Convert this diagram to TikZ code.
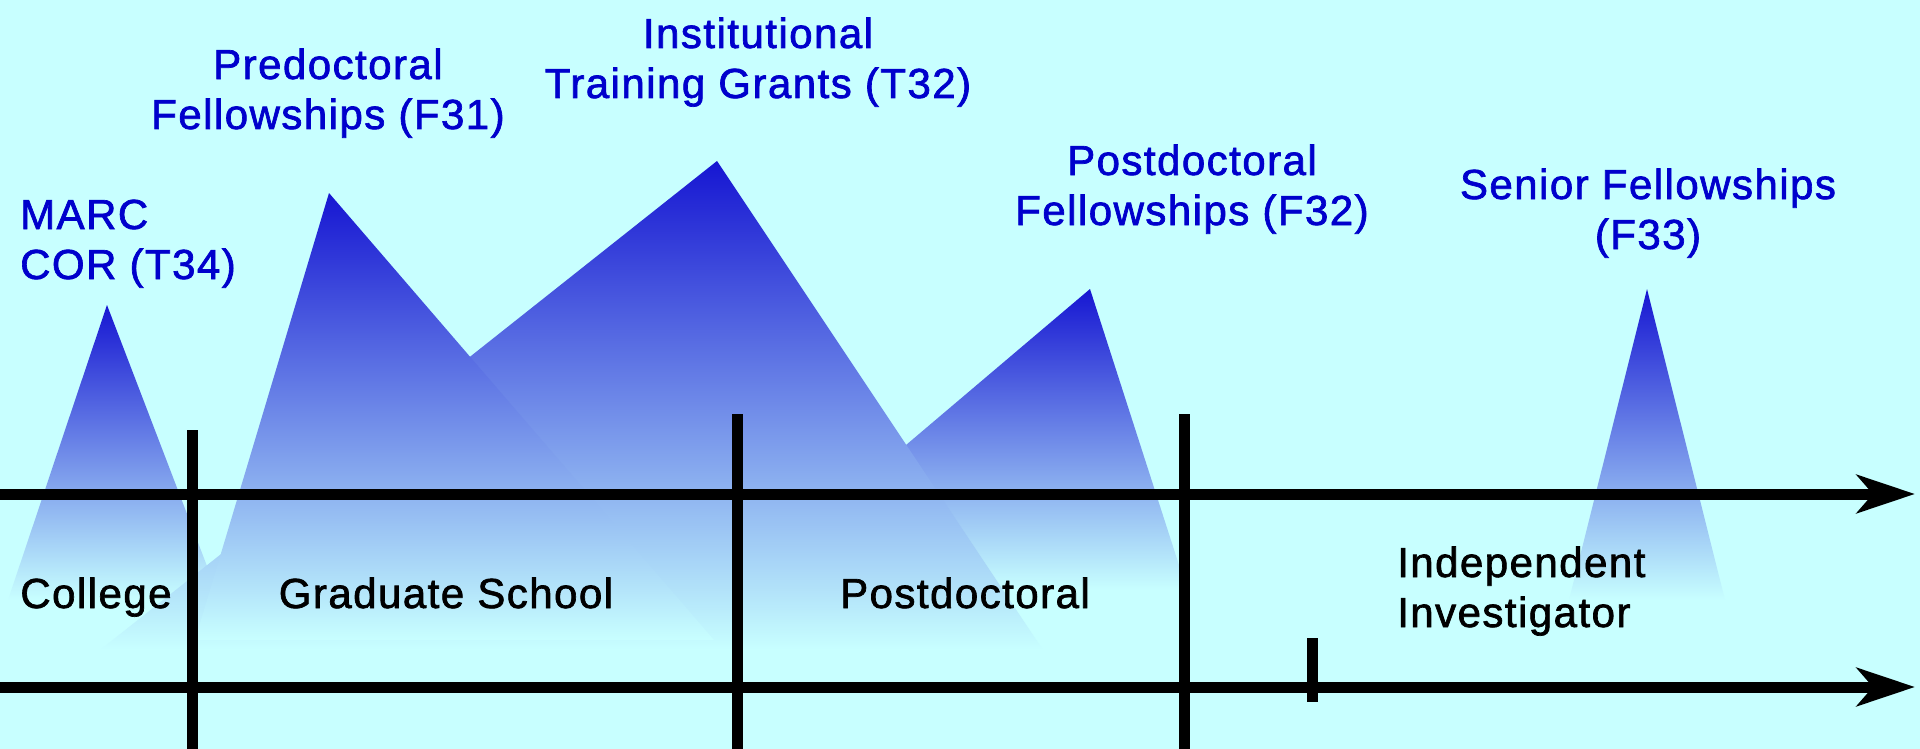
\documentclass[tikz,border=0pt]{standalone}
\usepackage{fontspec}
\setmainfont{Liberation Sans}
\newfontfamily\labfont[LetterSpace=3.5,FakeBold=1.6]{Liberation Sans}
\newcommand\labsize{\labfont\fontsize{42}{50}\selectfont}
\usetikzlibrary{arrows.meta}
\definecolor{bgc}{RGB}{200,255,255}
\definecolor{peak}{RGB}{22,22,210}
\definecolor{midc}{RGB}{122,150,234}
\definecolor{labblue}{RGB}{0,0,204}
\tikzset{
  mount/.style={top color=peak, middle color=midc, bottom color=bgc, draw=none},
  bluelab/.style={text=labblue, font=\labsize, inner sep=0pt, align=center, anchor=base},
  blacklab/.style={text=black, font=\labsize, inner sep=0pt, anchor=base},
  axisline/.style={line width=11pt, -{Stealth[length=58pt,width=38pt,inset=16pt]}},
  divider/.style={line width=11pt, line cap=butt},
}
\begin{document}
\begin{tikzpicture}[x=1pt,y=-1pt]
\fill[bgc] (0,0) rectangle (1920,749);
\useasboundingbox (0,0) rectangle (1920,749);

% mountains
\shade[mount] (107,305) -- (220,600) -- (8,600) -- cycle;
\shade[mount] (1090,289) -- (1187,590) -- (735,590) -- cycle;
\shade[mount] (717,161) -- (1043,650) -- (100,650) -- cycle;
\shade[mount] (329,193) -- (714,640) -- (195,640) -- cycle;
\shade[mount] (1647,289) -- (1725,600) -- (1569,600) -- cycle;

% blue labels (node base = baseline of last line)
\node[bluelab, align=left, anchor=base west] (marc) at (20,279) {MARC\\COR (T34)};
\node[bluelab] (pre) at (328,129) {Predoctoral\\Fellowships (F31)};
\node[bluelab] (inst) at (758,98) {Institutional\\Training Grants (T32)};
\node[bluelab] (postf) at (1192,225) {Postdoctoral\\Fellowships (F32)};
\node[bluelab] (senior) at (1648,249) {Senior Fellowships\\(F33)};

% black labels
\node[blacklab] (college) at (96,608) {College};
\node[blacklab] (grad) at (446,608) {Graduate School};
\node[blacklab] (postdoc) at (965,608) {Postdoctoral};
\node[blacklab, align=left, anchor=base west] (indep) at (1397,627) {Independent\\Investigator};

% axes
\coordinate (u0) at (0,494);
\coordinate (u1) at (1915,494);
\coordinate (l0) at (0,687);
\coordinate (l1) at (1915,687);
\draw[axisline] (u0) -- (u1);
\draw[axisline] (l0) -- (l1);

% dividers
\coordinate (v1t) at (192,430);  \coordinate (v1b) at (192,749);
\coordinate (v2t) at (737,414);  \coordinate (v2b) at (737,749);
\coordinate (v3t) at (1184,414); \coordinate (v3b) at (1184,749);
\coordinate (tkt) at (1312,638); \coordinate (tkb) at (1312,702);
\draw[divider] (v1t) -- (v1b);
\draw[divider] (v2t) -- (v2b);
\draw[divider] (v3t) -- (v3b);
\draw[divider] (tkt) -- (tkb);
\end{tikzpicture}
\end{document}
